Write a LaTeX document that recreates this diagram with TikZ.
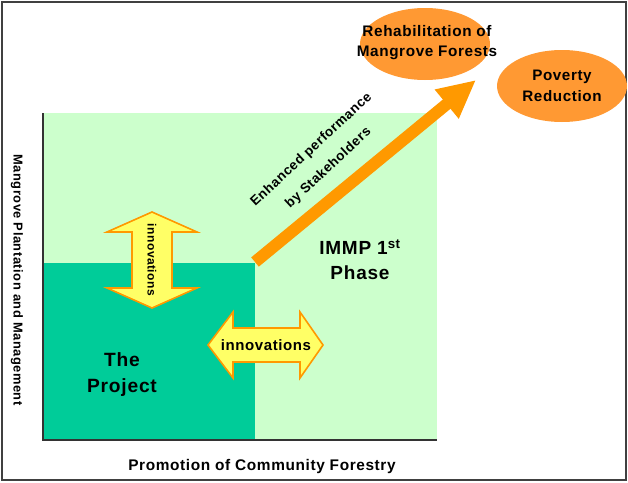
\documentclass[tikz,border=0pt]{standalone}
\usepackage{fontspec}
\setmainfont{Liberation Sans}[LetterSpace=4]
\usetikzlibrary{arrows.meta,shapes.geometric}

\definecolor{paleGreen}{HTML}{CCFFCC}
\definecolor{seaGreen}{HTML}{00CC99}
\definecolor{goalOrange}{HTML}{FF9933}
\definecolor{arrowOrange}{HTML}{FF9900}
\definecolor{lemon}{HTML}{FFFF66}
\definecolor{frameGray}{HTML}{404040}
\definecolor{axisGray}{HTML}{333333}

\begin{document}
\begin{tikzpicture}[x=1pt,y=-1pt,
  lbl/.style={font=\bfseries, align=center, inner sep=0pt},
  goal/.style={ellipse, fill=goalOrange, inner sep=0pt,
               minimum width=130pt, minimum height=72pt},
  twoway/.style={fill=lemon, draw=arrowOrange, line width=1.6pt, line join=miter},
  axis/.style={draw=axisGray, line width=1.5pt}]

\useasboundingbox (0,0) rectangle (628,482);
\draw[frameGray, line width=2pt] (2,2) rectangle (626,480);

% quadrants of the plot
\fill[paleGreen] (43,113) rectangle (437,440);
\fill[seaGreen] (43,263) rectangle (255,440);
\draw[axis] (43,113) -- (43,440) -- (437,440);

% goals
\node[goal] (rehab) at (425,44) {};
\node[lbl, font=\bfseries\fontsize{15.3}{20}\selectfont] (rehabtxt) at (427,43)
  {Rehabilitation of\\Mangrove Forests};
\node[goal] (poverty) at (562,86) {};
\node[lbl, font=\bfseries\fontsize{15.2}{21}\selectfont] (povtxt) at (poverty.center)
  {Poverty\\Reduction};

% growth arrow
\coordinate (start) at (255,262);
\coordinate (tip) at (476,80);
\draw[arrowOrange, line width=12pt,
      -{Triangle[length=38pt, width=35pt]}] (start) -- (tip);
\node[lbl, rotate=43, font=\bfseries\fontsize{13.5}{25}\selectfont] (enh) at (320,159)
  {Enhanced performance\\by Stakeholders};

% two-way arrows
\path[twoway] (152,212) -- (197,232) -- (172,232) -- (172,288) -- (197,288)
  -- (152,308) -- (107,288) -- (132,288) -- (132,232) -- (107,232) -- cycle;
\node[lbl, rotate=-90, font=\bfseries\fontsize{12}{14}\selectfont] (innov1) at (152,260)
  {innovations};
\path[twoway] (208,345) -- (233,312) -- (233,328) -- (300,328) -- (300,312)
  -- (323,345) -- (300,378) -- (300,362) -- (233,362) -- (233,378) -- cycle;
\node[lbl, font=\bfseries\fontsize{15}{17}\selectfont] (innov2) at (266,345)
  {innovations};

% quadrant labels
\node[lbl, font=\bfseries\fontsize{19.2}{26}\selectfont] (project) at (122,375)
  {The\\Project};
\node[lbl, font=\bfseries\fontsize{19}{25}\selectfont] (immp) at (360,260)
  {IMMP 1\textsuperscript{st}\\Phase};

% axis titles
\node[lbl, rotate=-90, font=\bfseries\fontsize{12.9}{15}\selectfont] (yaxis) at (17,280)
  {Mangrove Plantation and Management};
\node[lbl, font=\bfseries\fontsize{15.4}{18}\selectfont] (xaxis) at (262,467)
  {Promotion of Community Forestry};
\end{tikzpicture}
\end{document}
